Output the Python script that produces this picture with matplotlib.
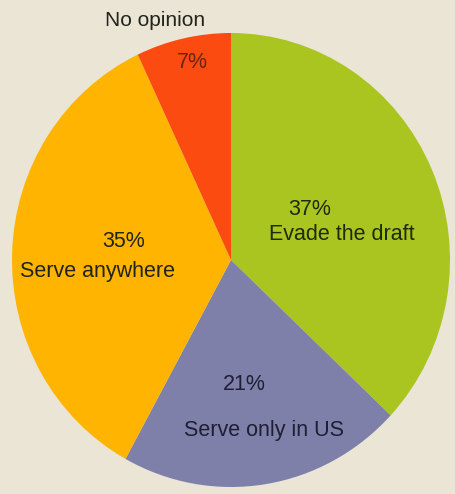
import matplotlib.pyplot as plt

# survey answers, clockwise from 12 o'clock
answers = ['Evade the draft', 'Serve only in US', 'Serve anywhere', 'No opinion']
shares = [37, 21, 35, 7]
colors = ['#aac520', '#7f80a9', '#ffb402', '#fb4b10']

plt.rcParams['font.family'] = ['Liberation Sans', 'DejaVu Sans']

W, H = 455, 494
fig = plt.figure(figsize=(W / 100, H / 100), dpi=100)
fig.patch.set_facecolor('#ebe5d6')

# pie box in pixels (left, top, width, height) - the scan is slightly oval
px, py, pw, ph = 12, 33, 438, 454
ax = fig.add_axes([px / W, 1 - (py + ph) / H, pw / W, ph / H])
ax.pie(shares, colors=colors, startangle=90, counterclock=False,
       wedgeprops={'linewidth': 0})
ax.set_aspect('auto')
ax.set_xlim(-1, 1)
ax.set_ylim(-1, 1)
ax.axis('off')


def label(x, y, s, size=15.5, color='#22231a'):
    fig.text(x / W, 1 - y / H, s, ha='center', va='center',
             fontsize=size, color=color)


label(155, 20, 'No opinion', size=15)
label(192, 63, f'{shares[3]}%', color='#6b2410')
label(310, 209, f'{shares[0]}%', color='#1e2a0e')
label(342, 235, answers[0], color='#1e2a0e')
label(244, 384, f'{shares[1]}%', color='#1d1f33')
label(264, 430, answers[1], color='#1d1f33')
label(124, 241, f'{shares[2]}%')
label(97, 272, answers[2])

fig.savefig('out.png', dpi=100, facecolor=fig.get_facecolor())
